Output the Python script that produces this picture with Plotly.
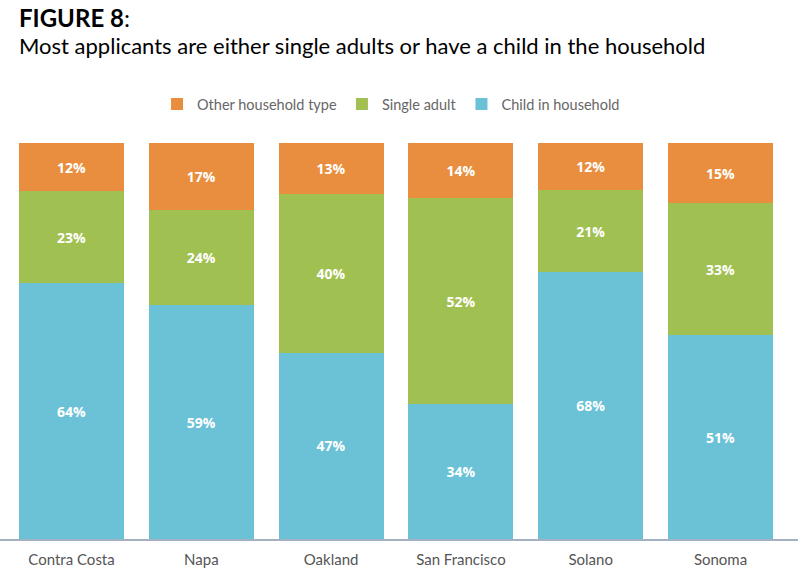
import plotly.graph_objects as go

# Share of applicants by household type, per site
sites = ['Contra Costa', 'Napa', 'Oakland', 'San Francisco', 'Solano', 'Sonoma']
child = [64, 59, 47, 34, 68, 51]
single = [23, 24, 40, 52, 21, 33]
other = [12, 17, 13, 14, 12, 15]

series = [
    ('Child in household', child, '#6BC1D6'),
    ('Single adult', single, '#A1C052'),
    ('Other household type', other, '#E98E3E'),
]

fig = go.Figure()
for name, vals, color in series:
    fig.add_trace(go.Bar(
        x=sites,
        y=vals,
        name=name,
        marker=dict(color=color, line=dict(width=0)),
        width=0.81,
        text=[f'{v}%' for v in vals],
        texttemplate='%{text}',
        textposition='inside',
        insidetextanchor='middle',
        textangle=0,
        textfont=dict(family='Open Sans', size=14, color='white', weight='bold'),
        hoverinfo='skip',
    ))

fig.update_layout(
    width=806,
    height=584,
    barmode='stack',
    barnorm='percent',
    plot_bgcolor='white',
    paper_bgcolor='white',
    margin=dict(l=0, r=8, t=143, b=45),
    font=dict(family='Lato', color='#555555', size=15),
    legend=dict(
        orientation='h',
        traceorder='reversed',
        x=0.49, xanchor='center',
        y=1.098, yanchor='middle',
        font=dict(size=14.5, color='#666666'),
        itemwidth=30,
    ),
    xaxis=dict(
        range=[-0.551, 5.597],
        showline=True,
        linecolor='#A3B1C2',
        linewidth=1.5,
        showgrid=False,
        ticks='',
        ticklabelstandoff=6,
        tickfont=dict(size=15, color='#555555'),
    ),
    yaxis=dict(
        range=[0, 100],
        visible=False,
        showgrid=False,
    ),
    showlegend=True,
)

fig.add_annotation(
    xref='paper', yref='paper', x=0.021, y=1.318,
    xanchor='left', yanchor='middle', showarrow=False,
    text='<b>FIGURE 8</b>:',
    font=dict(family='Lato', size=24, color='black'),
)
fig.add_annotation(
    xref='paper', yref='paper', x=0.021, y=1.245,
    xanchor='left', yanchor='middle', showarrow=False,
    text='Most applicants are either single adults or have a child in the household',
    font=dict(family='Lato', size=22, color='black'),
)

# the page body has a default 8px margin; drop it so the figure sits at 0,0
fig.write_html('out.html', config={'displayModeBar': False},
               post_script="document.body.style.margin='0';")
